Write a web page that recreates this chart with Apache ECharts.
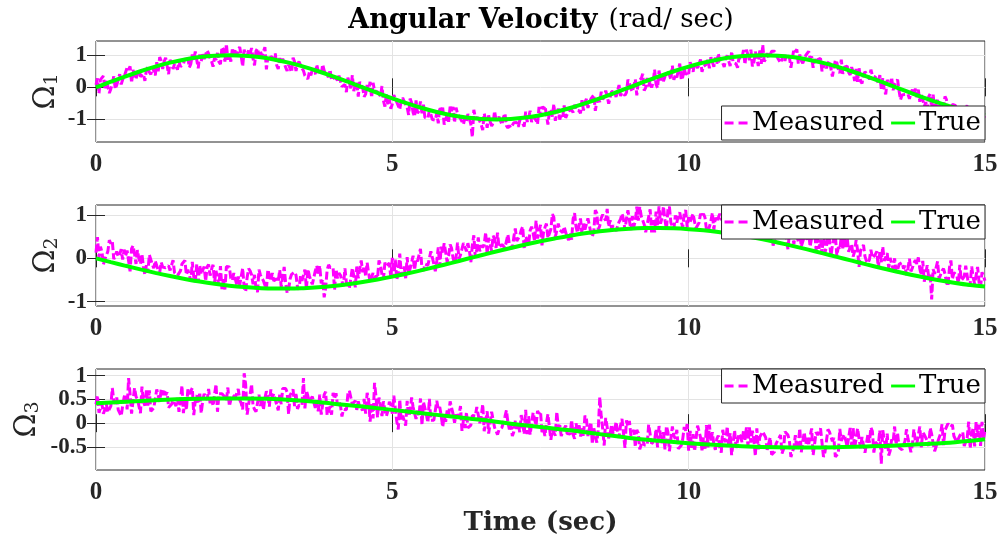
<!DOCTYPE html>
<html><head><meta charset="utf-8">
<script src="https://cdn.jsdelivr.net/npm/echarts@6/dist/echarts.min.js"></script>
<style>html,body{margin:0;padding:0;background:#fff}#c{width:1003px;height:546px}</style>
</head><body><div id="c"></div>
<script>
// ---- time grids ----
const DT_MEAS = 0.05;   // step of each measured array; the "b" arrays sit half a step later
const DT_TRUE12 = 0.25; // sample step of true curves 1 & 2 (s)
const DT_TRUE3 = 0.5;   // sample step of true curve 3 (s)
const xTicks = [0, 5, 10, 15];

// ---- Omega 1 ----
const meas1a = [
.08,-.19,.20,-.07,.27,-.05,.34,.07,.41,.24,
.32,.55,.14,.37,.45,.33,.41,.54,.47,.64,
.37,.50,.82,.80,.67,.85,.57,.69,.81,.68,
.90,.91,.73,.84,1.11,1.02,1.03,.94,1.05,.81,
.92,1.07,.72,1.17,1.35,1.03,1.18,1.17,1.17,.97,
1.17,.96,1.05,.89,1.13,.97,.96,1.25,.93,.96,
.90,.68,.91,.89,.62,.70,.47,.80,.72,.70,
.52,.34,.47,.54,.41,.48,.40,.52,.39,.55,
.27,.29,.36,.02,.09,.30,-.03,-.12,.15,.17,
-.02,-.21,-.09,-.32,-.11,-.14,-.28,-.41,-.20,-.38,
-.51,-.29,-.48,-.41,-.44,-.62,-.35,-.78,-.41,-.73,
-.81,-.94,-.96,-.84,-1.01,-.79,-.61,-.63,-1.00,-1.07,
-.74,-1.10,-.82,-.98,-1.15,-1.06,-.97,-1.55,-.94,-.95,
-1.16,-.81,-1.26,-1.06,-1.12,-1.02,-.92,-1.16,-.81,-1.26,
-1.26,-1.10,-1.09,-1.03,-1.12,-.76,-.95,-1.08,-.87,-1.15,
-.89,-.67,-.85,-.78,-.91,-1.04,-.66,-.84,-.56,-.89,
-.76,-.78,-.71,-.73,-.40,-.47,-.64,-.36,-.23,-.44,
-.46,-.38,-.10,-.51,-.13,-.14,-.26,-.27,-.19,-.16,
.13,-.14,.25,.23,.27,-.10,.29,.22,.16,.09,
.52,.35,.24,.42,.25,.23,.31,.74,.32,.39,
.42,.65,.77,.60,.87,.65,.72,.59,.96,.93,
1.05,.76,.63,.99,.66,.77,.73,.94,.90,.71,
1.12,1.17,.77,.92,1.18,1.32,.88,.92,1.12,1.12,
.92,.76,1.00,1.04,.93,.67,1.11,.74,.83,.81,
.95,.88,.61,.74,.82,.50,.77,.75,.82,.40,
.77,.44,.42,.59,.46,.63,.20,.17,.19,.40,
.47,.24,.36,.32,.14,-.05,-.08,.23,.05,-.09,
.08,-.11,-.24,-.22,-.21,-.19,-.28,-.31,-.45,-.38,
-.46,-.29,-.63,-.71,-.39,-.52,-.65,-.38,-.86,-.53,
-.56,-.59,-.76,-.79,-.56,-.59,-.96,-1.08,-.80,-.67,
-.89];
const meas1b = [
.28,.24,.35,.24,-.18,.12,-.05,.25,.09,.32,
.62,.65,.54,.25,.54,.38,.20,.63,.40,.69,
.78,.94,.57,.92,.41,.77,.73,.55,.64,.72,
.80,.62,1.02,1.11,.59,.81,.88,1.15,.90,.64,
.85,.79,1.25,.80,.86,.80,.99,.98,1.25,.65,
1.04,1.16,1.22,.68,1.21,1.12,1.11,.56,.82,.93,
1.05,.57,.75,.92,.51,.74,.92,.51,.80,.59,
.36,.26,.37,.60,.71,.54,.71,.41,.32,.22,
.32,.22,.38,.03,-.15,.28,.38,.08,-.29,.08,
-.29,.07,.17,.14,-.17,-.20,.04,-.60,-.56,-.67,
-.24,-.46,-.69,-.33,-.49,-.86,-.48,-.91,-.80,-.44,
-.54,-.88,-.72,-1.00,-1.02,-1.12,-.81,-1.16,-.85,-.60,
-.61,-.63,-.78,-.93,-.94,-.83,-1.15,-.70,-.98,-.99,
-1.33,-1.00,-.87,-1.20,-.74,-1.01,-.94,-.93,-1.19,-1.19,
-1.18,-1.11,-1.23,-1.02,-1.22,-1.07,-.73,-.91,-1.03,-.61,
-.60,-.58,-1.16,-.68,-.52,-.82,-1.00,-.91,-.95,-.73,
-.70,-.54,-.77,-.81,-.72,-.36,-.59,-.30,-.73,-.37,
-.14,-.30,-.27,-.57,-.13,-.30,.07,-.16,-.25,.24,
-.05,-.15,-.25,.24,.42,-.01,.03,-.01,.55,-.02,
.22,.19,.48,.38,.67,.38,.27,.23,.59,.49,
.78,.48,.83,.72,.48,.71,.86,.94,.64,.72,
.80,.75,.89,1.04,1.12,.81,.61,.95,1.16,1.17,
.85,.65,1.11,.66,.73,.80,1.06,.92,1.18,1.11,
.91,.77,.82,1.07,.61,1.19,1.18,1.02,.75,.99,
1.12,.96,.88,.86,.90,.48,.59,.83,.34,.85,
.56,.86,.63,.66,.38,.47,.57,.61,.12,.48,
.39,.55,.32,.22,.38,.28,-.22,.28,.31,.08,
.24,-.39,-.29,-.19,-.36,-.07,-.04,-.07,-.23,-.60,
-.70,-.20,-.23,-.52,-.82,-.53,-.28,-.91,-.74,-.51,
-.80,-.88,-.65,-.74,-.89,-1.05,-1.00,-.89,-1.11,-.93];
const true1 = [
0,.174,.342,.5,.643,.766,.866,.94,.985,1,.985,.94,.866,.766,.643,.5,.342,.174,0,
-.174,-.342,-.5,-.643,-.766,-.866,-.94,-.985,-1,-.985,-.94,-.866,-.766,-.643,-.5,-.342,-.174,0,
.174,.342,.5,.643,.766,.866,.94,.985,1,.985,.94,.866,.766,.643,.5,.342,.174,0,
-.174,-.342,-.5,-.643,-.766,-.866];
const yTicks1 = [-1, 0, 1];

// ---- Omega 2 ----
const meas2a = [
.13,.01,.15,-.02,.16, .34,-.02,.16,.09,-.03, .06,.19,.22,.11,.19, -.13,-.19,-.16,.08,-.14,
-.06,-.27,-.09,-.20,-.26, -.28,-.04,-.31,-.37,-.13, -.05,-.26,-.52,-.43,-.14, -.16,-.37,-.53,-.14,-.25,
-.56,-.32,-.18,-.48,-.19, -.20,-.51,-.31,-.42,-.63, -.68,-.44,-.29,-.60,-.70, -.26,-.36,-.51,-.26,-.52,
-.52,-.47,-.27,-.62,-.57, -.72,-.37,-.32,-.66,-.41, -.51,-.71,-.40,-.60,-.29, -.39,-.58,-.90,-.27,-.21,
-.21,-.25,-.34,-.53,-.23, -.62,-.46,-.40,-.19,-.48, -.32,-.41,-.34,-.43,-.47, -.46,-.15,-.48,-.17,-.11,
.01,-.03,-.31,-.35,-.19, .03,-.35,.06,-.02,-.06, -.24,-.13,-.16,.16,-.13, -.06,-.19,.12,.14,.06,
.23,-.11,.36,.08,.35, .16,.18,.30,.02,.48, .30,.32,.08,.35,.52, .24,.25,.32,.24,.55,
.32,.49,.40,.52,.73, .50,.31,.73,.39,.46, .77,.59,.80,.46,1.02, .49,.80,.67,.73,.49,
.60,.91,.72,.59,.55, .66,.92,.58,.64,1.04, .75,1.01,.87,.73,.68, .69,.64,.90,.90,.91,
1.11,.97,.87,.87,.97, .78,.78,1.13,.88,1.08, 1.20,.93,.88,1.12,.82, .67,.82,1.06,.71,1.11,
.95,.85,.84,.74,1.03, 1.03,.67,.61,1.05,.94, .84,.88,.87,.81,1.00, .69,.68,.72,.71,.79,
.53,.57,.86,.65,.78, .67,.71,.59,.78,.46, .50,.48,.66,.70,.58, .62,.65,.39,.27,.50,
.44,.27,.50,.19,.22, .10,.13,.52,.05,.48, .06,.20,.23,.26,.15, .33,.16,.19,.18,.31,
-.06,-.03,.01,.09,-.23, -.09,-.06,.12,.01,-.26, -.32,-.14,-.10,-.17,-.24, -.30,-.11,-.13,-.24,-.06,
-.37,-.43,-.95,-.36,-.07, -.38,-.24,-.56,-.22,-.48, -.29,-.60,-.51,-.42,-.18, -.59,-.44,-.60,-.56,-.32,
-.52];
const meas2b = [
.49,.27,-.14,-.02,.42, .40,.06,.04,.21,.20, .18,-.30,.29,-.13,-.02, .10,-.38,-.33,.05,-.23,
-.17,-.32,-.20,-.22,-.17, -.25,-.33,-.40,-.29,-.11, -.38,-.26,-.08,-.55,-.56, -.37,-.19,-.20,-.40,-.15,
-.29,-.63,-.71,-.72,-.20, -.46,-.34,-.61,-.61,-.23, -.77,-.24,-.38,-.38,-.78, -.39,-.52,-.72,-.39,-.34,
-.53,-.53,-.66,-.20,-.80, -.47,-.34,-.39,-.72,-.52, -.26,-.25,-.51,-.58,-.17, -.17,-.49,-.68,-.15,-.21,
-.73,-.46,-.39,-.64,-.56, -.69,-.22,-.67,-.46,-.05, -.18,-.10,-.55,-.34,-.40, -.05,-.37,-.10,-.21,-.46,
-.45,-.50,.11,-.40,-.46, -.37,-.10,-.27,-.07,.22, -.29,-.15,.00,.15,-.30, .25,.27,.35,-.09,.32,
.00,.02,-.02,.06,.27, .35,-.09,.53,.21,.16, .25,.60,.47,.17,.45, .59,.22,.30,.25,.33,
.22,.69,.38,.65,.21, .43,.64,.59,.87,.62, .30,.71,.47,.67,.95, .51,.65,.59,.60,.42,
.43,1.04,.59,.92,.80, .68,.76,.50,1.11,.66, .93,.93,1.14,.88,.76, .63,.84,1.03,.65,1.11,
.65,.73,1.19,1.19,.93, .60,.80,.60,.60,.74, .80,1.20,.67,1.19,.79, .99,.99,.85,1.04,.72,
.84,1.03,.70,.82,.95, .94,.60,.86,.66,.84, 1.03,.95,.55,.61,.99, .65,.51,.89,.75,.68,
1.00,.71,.83,.63,.68, .53,.65,.50,.29,.47, .66,.64,.69,.21,.47, .32,.62,.61,.27,.51,
.56,.48,.66,.45,.43, .61,.27,.44,.29,.54, .26,.51,.49,.47,.26, .04,.42,-.20,.25,.04,
-.11,.20,.05,.16,.14, .27,-.08,-.22,.02,.00, -.27,-.10,-.24,-.39,-.01, -.22,-.04,.02,-.39,-.54,
-.16,-.37,-.25,-.39,-.47, -.29,-.36,-.64,-.05,-.33, -.40,-.15,-.55,-.17,-.64, -.19,-.59,-.20,-.67,-.29];
const true2 = [
0,-.087,-.173,-.256,-.335,-.409,-.476,-.536,-.588,-.631,-.664,-.686,-.698,-.699,-.689,-.669,
-.638,-.597,-.547,-.489,-.423,-.350,-.272,-.190,-.105,-.017,.070,.156,.239,.318,.393,.460,
.522,.577,.623,.659,.683,.697,.700,.692,.673,.645,.606,.558,.503,.440,.365,.287,.206,.121,
.034,-.052,-.139,-.224,-.304,-.380,-.450,-.513,-.568,-.615,-.652];
const yTicks2 = [-1, 0, 1];

// ---- Omega 3 ----
const meas3a = [
.40,.22,.41,.29,.23,.36,.48,.54,.30,.37,
.61,.95,.20,.74,.50,.21,.45,.69,.69,.22,
.28,.58,.71,.71,.65,.36,.48,.36,.24,.79,
.53,.71,.65,.17,.59,.65,.47,.54,.72,.54,
.60,.24,.66,.60,.48,.36,.60,.54,.72,.42,
1.05,.18,.60,.36,.24,.60,.53,.53,.59,.71,
.62,.38,.61,.73,.73,.19,.60,.36,.30,.41,
.95,.69,.45,.56,.32,.25,.18,.60,.17,.35,
.64,.63,.45,.14,.31,.61,.54,.41,.28,.34,
.27,.20,.50,.43,.85,.12,.35,.46,.15,.45,
.20,.31,-.13,.06,.18,.47,.22,.34,.09,.15,
-.04,.49,.01,.06,.06,.47,.34,-.08,.03,.15,
.44,.01,.13,.36,.06,.23,-.14,.16,.15,.33,
.14,-.17,.25,.00,.23,-.08,-.14,-.09,.14,.02,
.01,-.18,-.12,-.19,-.01,.28,.15,-.27,.26,.26,
.25,-.12,.00,.17,-.13,-.26,-.09,-.27,-.16,-.22,
-.23,-.24,.00,-.01,-.08,.16,-.27,.02,-.11,-.41,
.55,-.13,.11,-.32,-.03,-.16,-.16,-.05,.06,.06,
.05,-.20,-.50,-.21,-.51,-.46,-.46,-.23,-.41,-.12,
-.06,-.42,-.55,-.19,-.56,-.26,-.14,-.51,-.33,-.16,
-.58,-.52,-.59,-.05,-.30,-.30,-.04,-.03,-.19,-.56,
-.26,-.62,-.33,-.07,-.21,-.64,-.52,-.22,-.40,-.35,
-.47,-.41,-.35,-.11,-.29,-.18,-.30,-.54,-.66,-.60,
-.43,-.25,-.55,-.19,-.37,-.61,-.25,-.43,-.61,-.19,
-.31,-.43,-.67,-.19,-.19,-.13,-.61,-.13,-.19,-.31,
-.67,-.12,-.36,-.36,-.54,-.48,-.54,-.11,-.53,-.47,
-.65,-.41,-.17,-.40,-.46,-.85,-.16,-.22,-.58,-.39,
-.45,-.51,-.56,-.38,-.32,-.61,-.13,-.43,-.07,-.19,
-.24,-.48,-.23,-.59,-.40,-.22,-.46,-.16,-.03,-.03,
-.26,-.43,-.25,-.48,-.30,-.53,-.10,.03,-.03,.03,
-.14];
const meas3b = [
.58,.26,.20,.40,.20,.74,.41,.28,.15,.55,
.29,.61,.16,.56,.36,.77,.37,.37,.25,.32,
.71,.45,.59,.59,.33,.40,.47,.53,.48,.21,
.28,.61,.74,.48,.41,.21,.62,.49,.42,.36,
.82,.62,.62,.55,.75,.49,.62,.55,.49,.29,
.82,.22,.82,.29,.22,.36,.28,.67,.35,.54,
.61,.27,.40,.73,.65,.59,.71,.64,.38,.37,
.31,.69,.43,.55,.47,.60,.40,.66,.26,.18,
.51,.37,.37,.29,.28,.68,.40,.47,.46,.38,
.51,.64,.03,.10,.55,.54,.15,.27,.26,.38,
.58,.04,.50,.16,-.05,.15,.54,.21,.26,.52,
.45,.18,.51,.04,.03,.29,.15,.15,.27,.46,
.19,.18,.18,-.16,-.10,-.10,-.04,.15,.34,.00,
.40,-.14,-.22,.24,-.09,-.24,-.18,.02,.27,-.13,
-.27,.05,-.02,.17,-.23,-.23,-.24,.22,-.05,.20,
-.19,-.27,.19,-.35,-.09,.24,-.04,-.18,-.05,-.25,
.07,-.33,-.21,-.28,-.28,.10,-.11,-.44,-.12,-.13,
.14,-.47,-.08,-.22,-.22,.03,-.31,.09,-.52,-.07,
-.26,-.14,-.14,-.55,-.35,-.42,-.03,-.43,-.37,-.51,
-.25,-.19,-.06,-.59,-.07,-.33,-.54,-.47,-.08,-.02,
-.16,-.23,-.63,-.17,-.57,-.57,-.51,-.38,-.45,-.33,
-.52,-.14,-.40,-.47,-.67,-.15,-.54,-.28,-.16,-.09,
-.09,-.16,-.69,-.55,-.29,-.17,-.56,-.30,-.70,-.43,
-.31,-.64,-.18,-.25,-.71,-.51,-.57,-.11,-.38,-.44,
-.44,-.11,-.44,-.25,-.11,-.71,-.57,-.18,-.38,-.71,
-.63,-.37,-.24,-.50,-.10,-.10,-.50,-.09,-.29,-.62,
-.23,-.09,-.62,-.41,-.15,-.15,-.54,-.68,-.34,-.07,
-.21,-.53,-.46,-.13,-.46,-.45,-.38,-.25,-.51,-.24,
-.37,-.10,-.43,-.49,-.42,-.02,-.15,-.01,-.08,-.27,
-.40,-.26,-.19,-.44,.03,-.24,-.49,-.29,-.48,-.34];
const true3 = [
.42,.45,.48,.51,.52,.52,.51,.47,.41,.35,.28,.21,.14,.07,-.01,-.08,
-.15,-.23,-.31,-.37,-.42,-.46,-.49,-.505,-.51,-.505,-.49,-.47,-.44,-.40,-.34];
const yTicks3 = [-0.5, 0, 0.5, 1];

// ---- axis ranges ----
const yRange1 = [-1.70, 1.44];
const yRange2 = [-1.10, 1.23];
const yRange3 = [-0.985, 1.14];

const rt = t => Math.round(t * 1000) / 1000;
const toPairs = (arr, dt) => arr.map((v, i) => [rt(i * dt), v]);
// merge the on-step samples (a) with the half-step samples (b) in time order
const mergeMeas = (a, b, dt) => {
  const out = [];
  a.forEach((v, i) => {
    out.push([rt(i * dt), v]);
    if (i < b.length) out.push([rt(i * dt + dt / 2), b[i]]);
  });
  return out;
};

const panels = [
  {ma: meas1a, mb: meas1b, tru: true1, dtT: DT_TRUE12, ticks: yTicks1, range: yRange1, sub: '1', top: 41, legTop: 106, nameGap: 34},
  {ma: meas2a, mb: meas2b, tru: true2, dtT: DT_TRUE12, ticks: yTicks2, range: yRange2, sub: '2', top: 205, legTop: 205, nameGap: 34},
  {ma: meas3a, mb: meas3b, tru: true3, dtT: DT_TRUE3, ticks: yTicks3, range: yRange3, sub: '3', top: 369, legTop: 369, nameGap: 53}
];

const FONT = 'DejaVu Serif';
const TICKFONT = 'Liberation Serif';
const TXT = '#262626';
const GRIDC = '#e3e3e3';
const ICON_DASH = 'path://M0 0H9V3H0Z M14 0H23V3H14Z';
const ICON_SOLID = 'path://M0 0H25V3H0Z';
const grid = [], xAxis = [], yAxis = [], series = [], legend = [];

panels.forEach((p, i) => {
  grid.push({left: 96, right: 18, top: p.top, height: 101, show: true, borderColor: TXT, borderWidth: 1,
    backgroundColor: 'transparent', containLabel: false, outerBoundsMode: 'none'});
  const xBase = {gridIndex: i, type: 'value', min: 0, max: 15, interval: 5,
    axisLine: {show: false},
    axisTick: {show: true, inside: true, length: 9, lineStyle: {color: TXT, width: 1}}};
  xAxis.push(Object.assign({}, xBase, {position: 'bottom',
    axisLabel: {show: true, margin: 10, fontFamily: TICKFONT, fontWeight: 'bold', fontSize: 25, color: TXT,
      customValues: xTicks, hideOverlap: false},
    splitLine: {show: true, lineStyle: {color: GRIDC, width: 1}},
    name: i === 2 ? 'Time (sec)' : '', nameLocation: 'middle', nameGap: 40, nameMoveOverlap: false,
    nameTextStyle: {fontFamily: FONT, fontWeight: 'bold', fontSize: 26, color: TXT}}));
  xAxis.push(Object.assign({}, xBase, {position: 'top', axisLabel: {show: false}, splitLine: {show: false}}));
  const yBase = {gridIndex: i, type: 'value', min: p.range[0], max: p.range[1],
    axisLine: {show: false},
    axisTick: {show: true, inside: true, length: 9, customValues: p.ticks, lineStyle: {color: TXT, width: 1}}};
  yAxis.push(Object.assign({}, yBase, {position: 'left',
    axisLabel: {show: true, margin: 9, customValues: p.ticks, fontFamily: TICKFONT, fontWeight: 'bold', fontSize: 23,
      lineHeight: 20, color: TXT, hideOverlap: false,
      formatter: v => String(v)},
    splitLine: {show: true, lineStyle: {color: GRIDC, width: 1}},
    name: '{o|Ω}{s|' + p.sub + '}', nameLocation: 'middle', nameRotate: 90, nameGap: p.nameGap, nameMoveOverlap: false,
    nameTextStyle: {color: TXT, rich: {
      o: {fontFamily: FONT, fontSize: 29, color: TXT},
      s: {fontFamily: FONT, fontSize: 19, color: TXT, padding: [12, 0, 0, 0]}}}}));
  yAxis.push(Object.assign({}, yBase, {position: 'right', axisLabel: {show: false}, splitLine: {show: false}}));
  series.push({type: 'line', name: 'Measured', xAxisIndex: 2 * i, yAxisIndex: 2 * i,
    data: mergeMeas(p.ma, p.mb, DT_MEAS), symbol: 'none', animation: false, z: 2,
    itemStyle: {color: '#ff00ff'},
    lineStyle: {color: '#ff00ff', width: 3, type: [8, 3]}});
  series.push({type: 'line', name: 'True', xAxisIndex: 2 * i, yAxisIndex: 2 * i,
    data: toPairs(p.tru, p.dtT), symbol: 'none', smooth: 0.4, animation: false, z: 3,
    itemStyle: {color: '#00ff00'},
    lineStyle: {color: '#00ff00', width: 4}});
  legend.push({data: [{name: 'Measured', icon: ICON_DASH}, {name: 'True', icon: ICON_SOLID}],
    right: 18, top: p.legTop, orient: 'horizontal',
    itemWidth: 24, itemHeight: 3, itemGap: 7, padding: [4, 4, 4, 3],
    backgroundColor: '#ffffff', borderColor: TXT, borderWidth: 1, borderRadius: 0,
    selectedMode: false, z: 10,
    textStyle: {fontFamily: FONT, fontSize: 26, color: '#000', padding: [0, 0, 0, -1]}});
});

const chart = echarts.init(document.getElementById('c'), null, {renderer: 'canvas'});
chart.setOption({
  backgroundColor: '#ffffff',
  animation: false,
  title: {
    text: '{b|Angular Velocity} {n|(rad/ sec)}',
    left: 536, top: 2, textAlign: 'center',
    textStyle: {rich: {
      b: {fontFamily: FONT, fontWeight: 'bold', fontSize: 27, color: '#000'},
      n: {fontFamily: FONT, fontWeight: 'normal', fontSize: 26, color: '#000', padding: [0, 0, 0, 6]}}}
  },
  grid, xAxis, yAxis, series, legend
});
</script>
</body></html>
